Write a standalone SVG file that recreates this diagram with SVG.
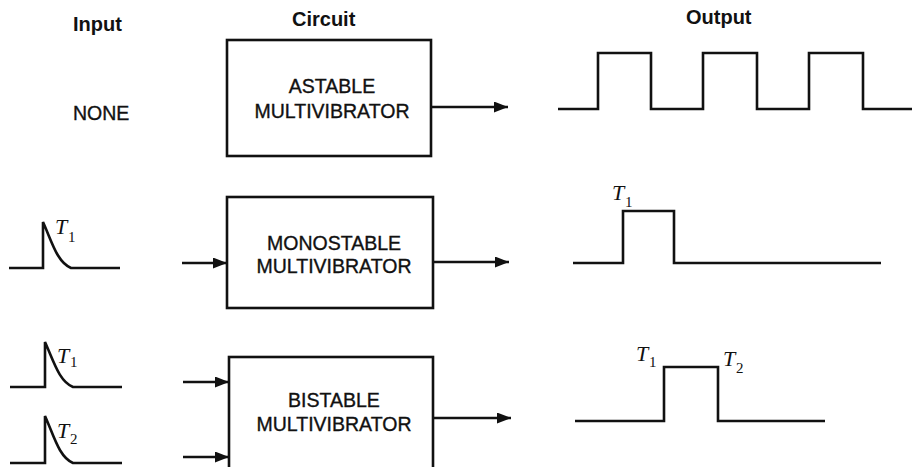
<svg xmlns="http://www.w3.org/2000/svg" width="912" height="467" viewBox="0 0 912 467">
<defs>
<marker id="ah" markerWidth="14" markerHeight="11" refX="14" refY="5.5" orient="auto" markerUnits="userSpaceOnUse">
<path d="M0,0 L14,5.5 L0,11 Z" fill="#111"/>
</marker>
<style>
.ln{fill:none;stroke:#111;stroke-width:2.6;stroke-linejoin:miter}
.box{fill:#fff;stroke:#111;stroke-width:2.6}
.hd{font-family:"Liberation Sans",Arial,sans-serif;font-weight:bold;font-size:20px;fill:#111}
.bt{font-family:"Liberation Sans",Arial,sans-serif;font-size:19.5px;fill:#111;stroke:#111;stroke-width:0.35;text-anchor:middle}
.nt{font-family:"Liberation Sans",Arial,sans-serif;font-size:19.5px;fill:#111;stroke:#111;stroke-width:0.35}
.tl{font-family:"Liberation Serif","Times New Roman",serif;font-style:italic;font-size:22px;fill:#111}
.sb{font-family:"Liberation Serif","Times New Roman",serif;font-size:15px;fill:#111}
.ar{fill:none;stroke:#111;stroke-width:2.4;marker-end:url(#ah)}
</style>
</defs>
<rect width="912" height="467" fill="#fff"/>

<g id="headers">
<text class="hd" x="73" y="31">Input</text>
<text class="hd" x="292" y="26">Circuit</text>
<text class="hd" x="686" y="24">Output</text>
</g>

<g id="input-none"><text class="nt" x="73" y="120">NONE</text></g>

<g id="astable">
<rect class="box" x="227" y="40" width="204" height="116"/>
<text class="bt" x="332" y="93">ASTABLE</text>
<text class="bt" x="332" y="118">MULTIVIBRATOR</text>
</g>

<g id="monostable">
<rect class="box" x="227" y="197" width="206" height="111"/>
<text class="bt" x="334" y="250">MONOSTABLE</text>
<text class="bt" x="334" y="273">MULTIVIBRATOR</text>
</g>

<g id="bistable">
<rect class="box" x="229" y="357" width="204" height="120"/>
<text class="bt" x="334" y="407">BISTABLE</text>
<text class="bt" x="334" y="431">MULTIVIBRATOR</text>
</g>

<g id="input-mono">
<path class="ln" d="M9 268 H43 V222 C52 242 57 262 71 268 H120"/>
<text class="tl" x="55" y="234">T</text><text class="sb" x="68" y="242">1</text>
</g>

<g id="input-bi-1">
<path class="ln" d="M10 387 H45 V342 C54 362 59 381 73 387 H122"/>
<text class="tl" x="57" y="363">T</text><text class="sb" x="70" y="367">1</text>
</g>

<g id="input-bi-2">
<path class="ln" d="M10 463 H45 V416 C54 436 59 457 73 463 H122"/>
<text class="tl" x="57" y="438">T</text><text class="sb" x="70" y="444">2</text>
</g>

<g id="output-astable">
<path class="ln" d="M558 109 H598 V53 H651 V109 H703 V53 H757 V109 H809 V53 H863 V109 H912"/>
</g>

<g id="output-mono">
<path class="ln" d="M573 263 H623 V211 H674 V263 H881"/>
<text class="tl" x="612" y="200">T</text><text class="sb" x="625" y="207">1</text>
</g>

<g id="output-bi">
<path class="ln" d="M575 421 H664 V367 H718 V421 H825"/>
<text class="tl" x="636" y="361">T</text><text class="sb" x="649" y="367">1</text>
<text class="tl" x="723" y="366">T</text><text class="sb" x="736" y="373">2</text>
</g>

<g id="connectors">
<line class="ar" x1="431" y1="107" x2="508" y2="107"/>
<line class="ar" x1="182" y1="263" x2="227" y2="263"/>
<line class="ar" x1="433" y1="262" x2="509" y2="262"/>
<line class="ar" x1="183" y1="382" x2="229" y2="382"/>
<line class="ar" x1="183" y1="457" x2="229" y2="457"/>
<line class="ar" x1="433" y1="418" x2="511" y2="418"/>
</g>
</svg>
